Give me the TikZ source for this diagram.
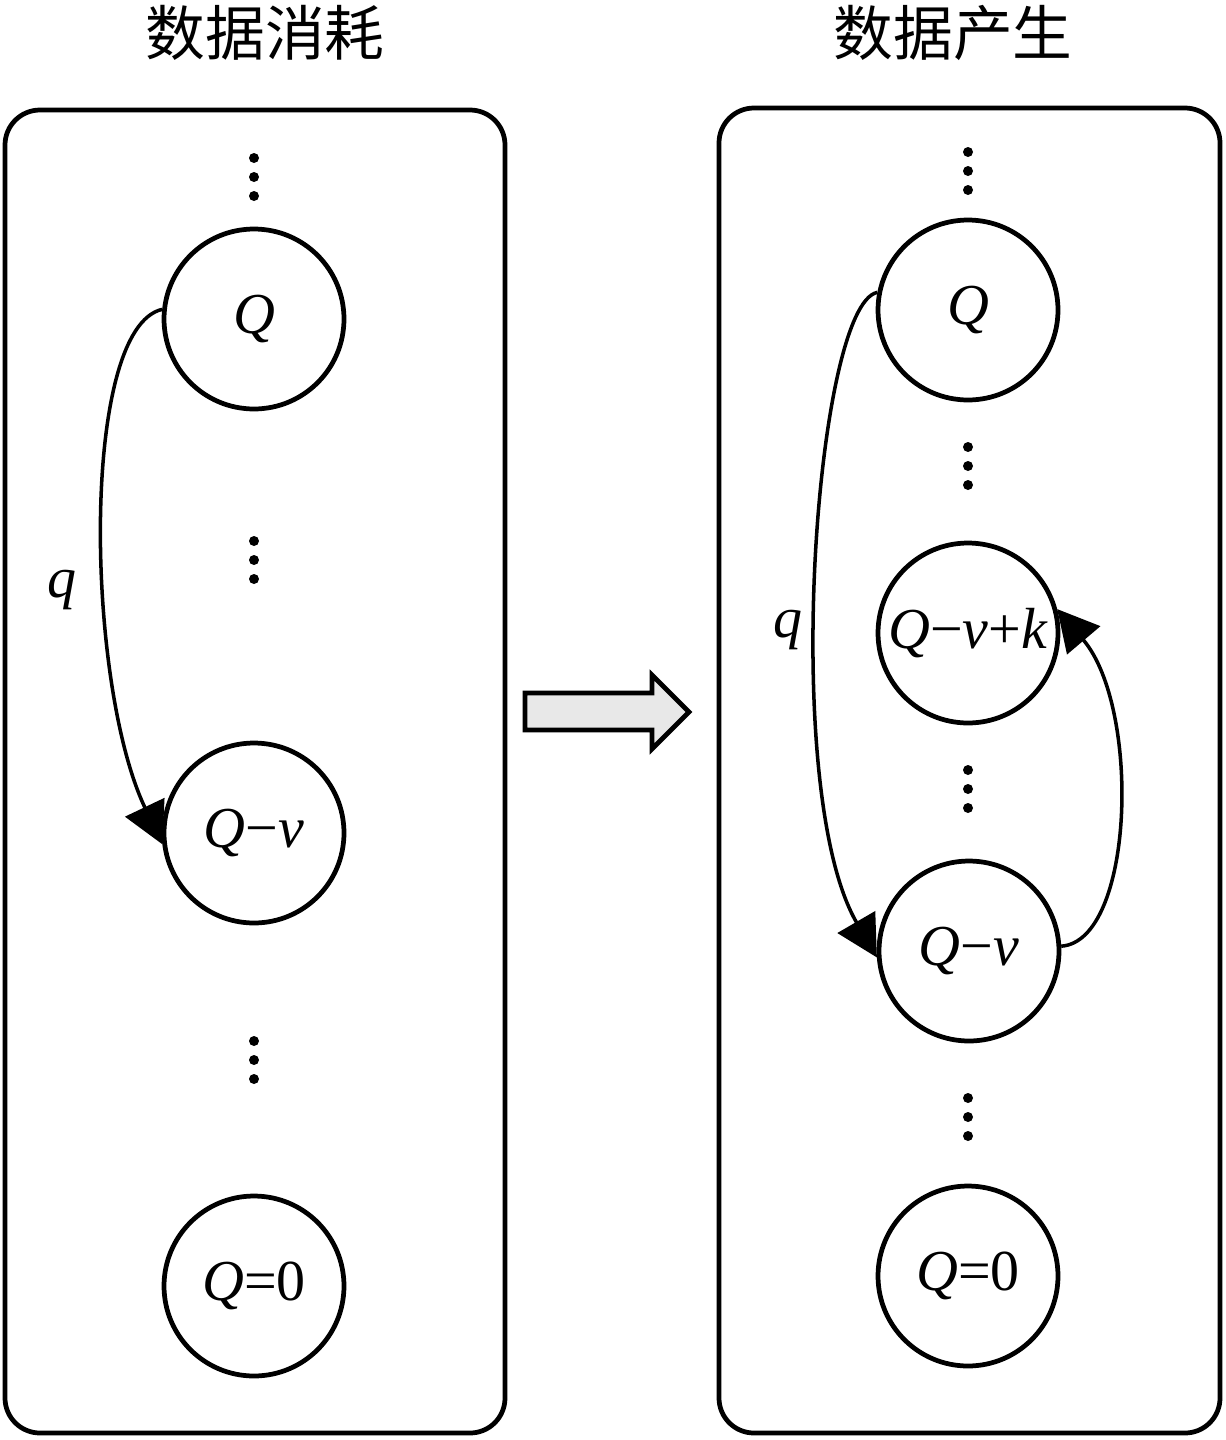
\documentclass[tikz,border=0pt]{standalone}
\usepackage{fontspec}
\setmainfont{Liberation Serif}
\newfontfamily\cjk{Noto Sans CJK SC}
\usetikzlibrary{arrows.meta}

\begin{document}
\begin{tikzpicture}[x=0.02cm, y=-0.02cm,
    state/.style={draw, circle, line width=2.7pt, minimum size=3.6cm, inner sep=0pt, font=\fontsize{33}{36}\selectfont},
    trans/.style={line width=2pt, -{Triangle[length=0.82cm, width=0.86cm]}},
    panel/.style={line width=2.7pt, rounded corners=0.7cm},
    lbl/.style={font=\fontsize{33}{36}\selectfont\itshape},
    heading/.style={font=\cjk\fontsize{34}{40}\selectfont}]

    \useasboundingbox (0,0) rectangle (1225,1440);

    % Draw titles
    \node[heading] (consume) at (265,33) {数据消耗};
    \node[heading] (produce) at (953,33) {数据产生};

    % Draw panels
    \draw[panel] (5,110) rectangle (505,1433);
    \draw[panel] (719,108) rectangle (1220,1433);

    % Draw states
    \node[state] (lq)   at (254,319)  {\textit{Q}};
    \node[state] (lqv)  at (254,833)  {\textit{Q}−\textit{v}};
    \node[state] (lq0)  at (254,1286) {\textit{Q}=0};
    \node[state] (rq)   at (968,310)  {\textit{Q}};
    \node[state] (rqvk) at (968,633)  {\textit{Q}−\textit{v}+\textit{k}};
    \node[state] (rqv)  at (969,951)  {\textit{Q}−\textit{v}};
    \node[state] (rq0)  at (968,1276) {\textit{Q}=0};

    % Draw dots
    \foreach \x/\y in {254/177, 254/560, 254/1060, 968/171, 968/466, 968/789, 968/1117}
        \foreach \d in {-19,0,19}
            \fill (\x,{\y+\d}) circle (0.1cm);

    % Draw transitions
    \draw[trans] (lq.174) .. controls +(-82,19) and +(-77,-162) .. (lqv.187);
    \node[lbl] (lql) at (62,590) {q};
    \draw[trans] (rq.169) .. controls +(-62,12) and +(-97,-167) .. (rqv.184);
    \node[lbl] (rql) at (788,630) {q};
    \draw[trans] (rqv.3) .. controls +(73,-5) and +(84,99) .. (rqvk.15);

    % Draw big arrow
    \draw[line width=2.7pt, fill=gray!18] (525,693) -- (652,693) -- (652,675) -- (689,712)
        -- (652,749) -- (652,730) -- (525,730) -- cycle;
\end{tikzpicture}
\end{document}
